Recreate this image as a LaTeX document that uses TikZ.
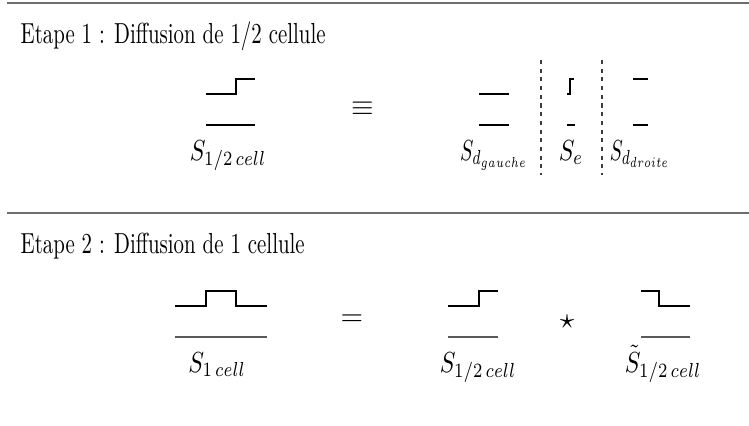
\documentclass[tikz,border=0pt]{standalone}
\usepackage{amsmath}
\usepackage{amssymb}
\usepackage{graphicx}
\usetikzlibrary{
  positioning,
  calc
}
\definecolor{dfRule}{HTML}{6E6E6E}
\definecolor{dfCut}{HTML}{3C3C3C}
\definecolor{dfRef}{HTML}{5A5A5A}
\newcommand{\narrow}[2][0.81]{\scalebox{#1}[1]{#2}}
\tikzset{
  sig/.style={line width=0.45pt, black},
  refline/.style={line width=0.45pt, black},
  refgray/.style={line width=0.6pt, dfRef},
  rule/.style={line width=0.7pt, dfRule},
  cut/.style={line width=0.45pt, dfCut, dash pattern=on 1.4pt off 1.6pt},
  heading/.style={anchor=base west, inner sep=0pt, font=\normalsize},
  sname/.style={anchor=base, inner sep=0pt, font=\normalsize},
  op/.style={inner sep=0pt, font=\normalsize}
}

\begin{document}
\begin{tikzpicture}[x=0.345pt, y=-0.345pt]
  \useasboundingbox (0,0) rectangle (749,425);
  % separating rules
  \draw[rule] (7,3) -- (749,3);
  \draw[rule] (7,213) -- (749,213);

  % Etape 1
  \node[heading] (etape1) at (20,43) {\narrow[0.72]{Etape 1 : Diffusion de $1/2$ cellule}};

  \draw[sig] (206,94) -- (236,94) -- (236,79) -- (255,79);
  \draw[refline] (206,125) -- (255,125);
  \node[sname] (shalf) at (228,160) {\narrow{$S_{1/2\,cell}$}};

  \node[op] (equiv) at (363,109) {$\equiv$};

  \draw[sig] (479,94) -- (509,94);
  \draw[refline] (479,125) -- (509,125);
  \node[sname] (sgauche) at (494,160) {\narrow[0.69]{$S_{d_{gauche}}$}};

  \draw[cut] (541,60) -- (541,175);

  \draw[sig] (567,94) -- (570,94) -- (570,79) -- (574,79);
  \draw[refline] (567,125) -- (575,125);
  \node[sname] (se) at (571,160) {\narrow{$S_e$}};

  \draw[cut] (602,60) -- (602,175);

  \draw[sig] (633,79) -- (648,79);
  \draw[refline] (633,125) -- (648,125);
  \node[sname] (sdroite) at (640,160) {\narrow[0.67]{$S_{d_{droite}}$}};

  % Etape 2
  \node[heading] (etape2) at (20,253) {\narrow[0.72]{Etape 2 : Diffusion de 1 cellule}};

  \draw[sig] (175,306) -- (206,306) -- (206,291) -- (236,291) -- (236,306) -- (267,306);
  \draw[refgray] (175,337) -- (267,337);
  \node[sname] (sone) at (217,372) {\narrow{$S_{1\,cell}$}};

  \node[op] (eq) at (352,320) {$=$};

  \draw[sig] (448,306) -- (479,306) -- (479,291) -- (498,291);
  \draw[refgray] (448,337) -- (498,337);
  \node[sname] (shalfb) at (478,372) {\narrow{$S_{1/2\,cell}$}};

  \node[op] (conv) at (567,322) {$\star$};

  \draw[sig] (641,291) -- (659,291) -- (659,306) -- (690,306);
  \draw[refgray] (641,337) -- (690,337);
  \node[sname] (shalft) at (663,372) {\narrow{$\tilde{S}_{1/2\,cell}$}};
\end{tikzpicture}
\end{document}
